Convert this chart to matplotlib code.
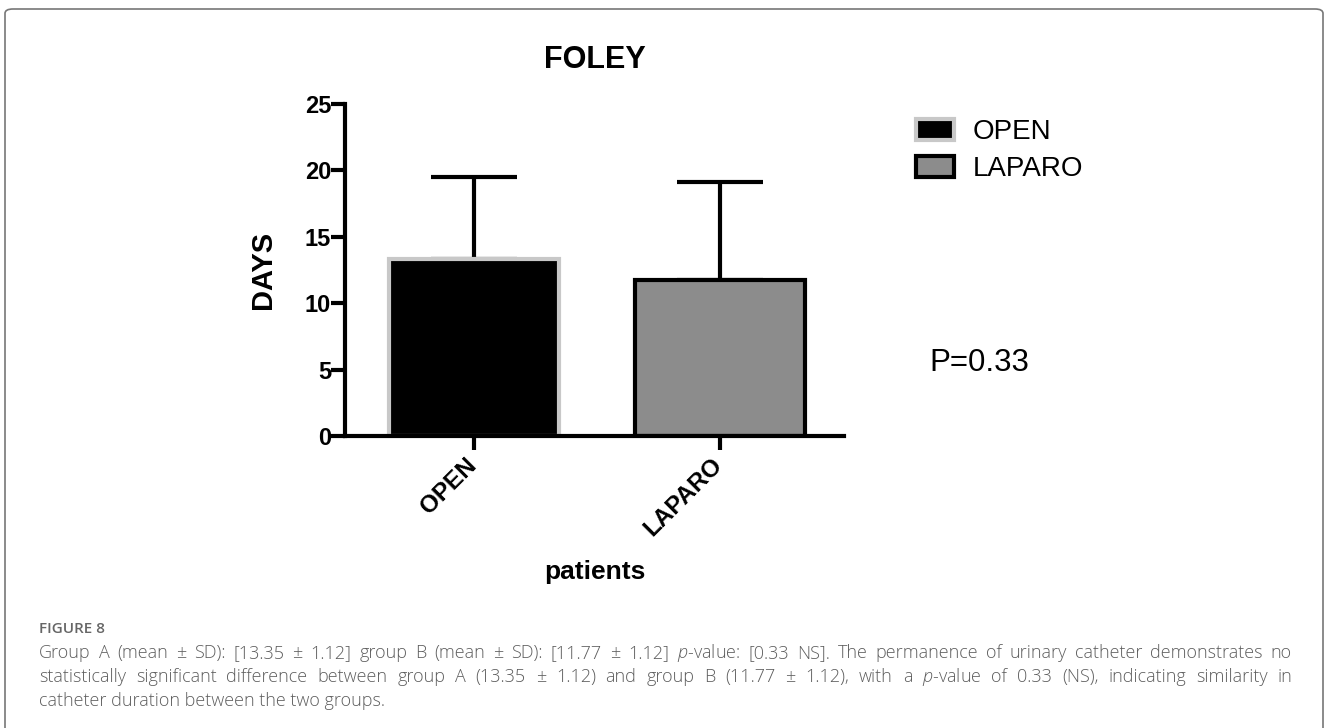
import numpy as np
import matplotlib.pyplot as plt
from matplotlib.patches import FancyBboxPatch, Patch
from matplotlib.transforms import ScaledTranslation

# Data
groups = ['OPEN', 'LAPARO']
means = [13.35, 11.77]
errs = [6.15, 7.33]
p_text = 'P=0.33'

caption_title = 'FIGURE 8'
caption_lines = [
    'Group A (mean ± SD): [13.35 ± 1.12] group B (mean ± SD): [11.77 ± 1.12] $p$-value: [0.33 NS]. The permanence of urinary catheter demonstrates no',
    'statistically significant difference between group A (13.35 ± 1.12) and group B (11.77 ± 1.12), with a $p$-value of 0.33 (NS), indicating similarity in',
    'catheter duration between the two groups.',
]

plt.rcParams['font.family'] = ['Liberation Sans', 'DejaVu Sans']
plt.rcParams['mathtext.fontset'] = 'custom'
plt.rcParams['mathtext.it'] = 'Open Sans:italic:light'

fig = plt.figure(figsize=(13.28, 7.28), dpi=100)
W, H = 1328, 728

# outer frame (open at bottom)
frame = FancyBboxPatch((5 / W, -0.05), 1318 / W, (728 - 9) / H + 0.05,
                       boxstyle='round,pad=0,rounding_size=0.006',
                       transform=fig.transFigure, facecolor='none',
                       edgecolor='#777777', linewidth=1.2)
fig.patches.append(frame)

ax = fig.add_axes([345 / W, 1 - 436 / H, (844 - 345) / W, (436 - 104) / H])
x = np.arange(len(groups))
face = ['black', '#8c8c8c']
edge = ['#c8c8c8', 'black']
ax.bar(x, means, width=0.69, color=face, edgecolor=edge, linewidth=3, zorder=2)
ax.errorbar(x, means, yerr=[np.zeros(len(errs)), errs], fmt='none', ecolor='black',
            elinewidth=3, capsize=31, capthick=3, zorder=1)

ax.set_xlim(-0.525, 1.505)
ax.set_ylim(0, 25)
ax.set_yticks([0, 5, 10, 15, 20, 25])
ax.set_xticks(x)
ax.set_xticklabels(groups, rotation=45, ha='right', rotation_mode='anchor')
for s in ['top', 'right']:
    ax.spines[s].set_visible(False)
for s in ['left', 'bottom']:
    ax.spines[s].set_linewidth(3)
ax.tick_params(axis='both', width=3, length=10)
ax.tick_params(axis='y', pad=0, labelsize=17)
ax.tick_params(axis='x', pad=6, labelsize=17.5)
shift = ScaledTranslation(-9 / 100, 5 / 100, fig.dpi_scale_trans)
for lbl in ax.get_xticklabels():
    lbl.set_fontweight('bold')
    lbl.set_transform(lbl.get_transform() + shift)
for lbl in ax.get_yticklabels():
    lbl.set_fontweight('bold')

ax.set_title('FOLEY', fontsize=22, fontweight='bold', pad=26)
ax.set_ylabel('DAYS', fontsize=21, fontweight='bold', labelpad=20)
ax.set_xlabel('patients', fontsize=19, fontweight='bold', labelpad=14)

handles = [Patch(facecolor=face[i], edgecolor=edge[i], linewidth=3) for i in range(2)]
fig.legend(handles, groups, loc='upper left', bbox_to_anchor=(905 / W, 1 - 108 / H),
           frameon=False, fontsize=20, handlelength=1.35, handleheight=0.75,
           labelspacing=0.4, handletextpad=0.7, borderaxespad=0)

fig.text(929 / W, 1 - 363 / H, p_text, fontsize=22.5, va='center', ha='left')

# caption
cap_font = ['Open Sans', 'DejaVu Sans']
cap_color = '#5e5e5e'
fig.text(39 / W, 1 - 629 / H, caption_title, fontsize=11, color='#666666',
         family=cap_font, fontweight='semibold', va='center')

renderer = fig.canvas.get_renderer()
x0, x1 = 39, 1292
ys = [653, 677, 701]
fs = 12.5
probe = fig.text(0, 0, caption_lines[0], fontsize=fs, family=cap_font, fontweight='light')
nat = probe.get_window_extent(renderer).width
probe.remove()
fs = min(13.0, fs * (x1 - x0) / nat * 0.98)
for i, line in enumerate(caption_lines):
    y = 1 - ys[i] / H
    if i == len(caption_lines) - 1:
        fig.text(x0 / W, y, line, fontsize=fs, color=cap_color, family=cap_font,
                 fontweight='light', va='center')
        continue
    words = line.split(' ')
    texts = [fig.text(0, y, w, fontsize=fs, color=cap_color, family=cap_font,
                      fontweight='light', va='center') for w in words]
    widths = [t.get_window_extent(renderer).width for t in texts]
    gap = (x1 - x0 - sum(widths)) / (len(words) - 1)
    pos = x0
    for t, w in zip(texts, widths):
        t.set_x(pos / W)
        pos += w + gap

fig.savefig('out.png', dpi=100)
